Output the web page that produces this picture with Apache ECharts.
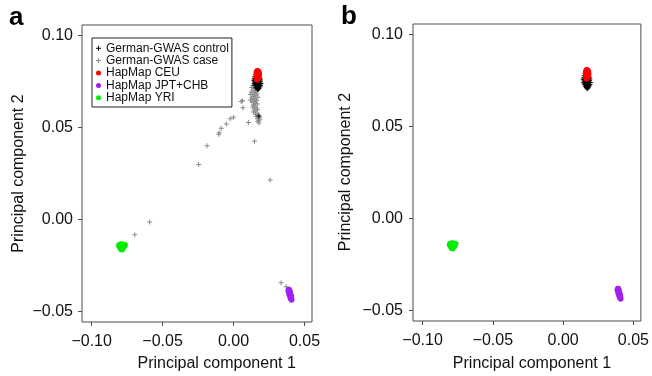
<!DOCTYPE html>
<html>
<head>
<meta charset="utf-8">
<script src="https://cdn.jsdelivr.net/npm/echarts@6/dist/echarts.min.js"></script>
<style>
html,body{margin:0;padding:0;background:#fff;}
#c{width:652px;height:376px;}
</style>
</head>
<body>
<div id="c"></div>
<script>
// ---- data ----
var xTicks = [-0.10, -0.05, 0.00, 0.05];
var yTicks = [-0.05, 0.00, 0.05, 0.10];
var seriesNames = ['German-GWAS control', 'German-GWAS case', 'HapMap CEU', 'HapMap JPT+CHB', 'HapMap YRI'];

var ceu = [
[0.0165,0.0812],[0.0172,0.0810],[0.0178,0.0808],[0.0160,0.0806],[0.0168,0.0804],[0.0182,0.0803],[0.0175,0.0801],
[0.0158,0.0799],[0.0166,0.0797],[0.0184,0.0796],[0.0171,0.0794],[0.0162,0.0792],[0.0179,0.0791],[0.0155,0.0789],
[0.0168,0.0787],[0.0186,0.0786],[0.0174,0.0784],[0.0160,0.0782],[0.0181,0.0780],[0.0166,0.0779],[0.0156,0.0777],
[0.0176,0.0775],[0.0163,0.0773],[0.0183,0.0772],[0.0170,0.0770],[0.0158,0.0768],[0.0178,0.0766],[0.0165,0.0764],
[0.0173,0.0761],[0.0161,0.0759],[0.0168,0.0756]
];
var control = [
[0.0150,0.0776],[0.0162,0.0772],[0.0175,0.0770],[0.0186,0.0768],[0.0147,0.0766],[0.0158,0.0764],[0.0170,0.0762],
[0.0181,0.0760],[0.0190,0.0758],[0.0143,0.0757],[0.0152,0.0755],[0.0165,0.0753],[0.0178,0.0751],[0.0188,0.0749],
[0.0148,0.0747],[0.0160,0.0745],[0.0172,0.0743],[0.0184,0.0741],[0.0193,0.0740],[0.0146,0.0738],[0.0156,0.0736],
[0.0168,0.0734],[0.0180,0.0732],[0.0190,0.0730],[0.0152,0.0728],[0.0163,0.0726],[0.0175,0.0724],[0.0186,0.0722],
[0.0158,0.0719],[0.0170,0.0717],[0.0181,0.0715],[0.0165,0.0712],[0.0176,0.0709],[0.0170,0.0705]
];
var controlOutliers = [[0.0179,0.0563]];
var caseA = [
[0.0063,0.0645],[0.0054,0.0641],[0.0066,0.0608],[0.0000,0.0556],[-0.0023,0.0547],[-0.0051,0.0519],[-0.0087,0.0496],
[-0.0101,0.0472],[-0.0104,0.0463],[-0.0187,0.0401],[-0.0246,0.0298],[0.0105,0.0527],[0.0148,0.0425],[0.0258,0.0214],
[-0.0591,-0.0015],[-0.0696,-0.0084],[0.0335,-0.0345],[0.0371,-0.0367],
[0.0150,0.0738],[0.0135,0.0730],[0.0160,0.0725],[0.0128,0.0718],[0.0145,0.0712],[0.0170,0.0708],[0.0138,0.0703],
[0.0155,0.0698],[0.0125,0.0693],[0.0148,0.0688],[0.0165,0.0684],[0.0132,0.0679],[0.0158,0.0674],[0.0142,0.0669],
[0.0172,0.0665],[0.0128,0.0660],[0.0150,0.0656],[0.0138,0.0651],[0.0162,0.0647],[0.0145,0.0642],[0.0130,0.0637],
[0.0155,0.0632],[0.0168,0.0628],[0.0140,0.0623],[0.0150,0.0617],[0.0135,0.0612],[0.0160,0.0607],[0.0145,0.0601],
[0.0170,0.0596],[0.0152,0.0590],[0.0140,0.0585],[0.0165,0.0579],[0.0155,0.0572],[0.0175,0.0566],[0.0160,0.0560],
[0.0182,0.0554],[0.0168,0.0548],[0.0178,0.0540],[0.0172,0.0532],[0.0180,0.0525],[0.0185,0.0545],[0.0120,0.0650],
[0.0118,0.0680]
];
var jpt = [
[0.0386,-0.0380],[0.0394,-0.0379],[0.0382,-0.0386],[0.0391,-0.0385],[0.0400,-0.0387],
[0.0383,-0.0393],[0.0392,-0.0392],[0.0401,-0.0394],[0.0386,-0.0400],[0.0395,-0.0399],
[0.0404,-0.0401],[0.0388,-0.0407],[0.0397,-0.0406],[0.0406,-0.0408],[0.0391,-0.0414],
[0.0400,-0.0413],[0.0409,-0.0415],[0.0394,-0.0421],[0.0403,-0.0420],[0.0411,-0.0422],
[0.0397,-0.0428],[0.0406,-0.0427],[0.0413,-0.0430],[0.0401,-0.0435],[0.0410,-0.0435],
[0.0406,-0.0441],[0.0413,-0.0440]
];
var yri = [
[-0.0800,-0.0133],[-0.0790,-0.0132],[-0.0780,-0.0133],[-0.0770,-0.0134],[-0.0760,-0.0137],[-0.0810,-0.0138],
[-0.0795,-0.0139],[-0.0785,-0.0140],[-0.0772,-0.0141],[-0.0812,-0.0145],[-0.0800,-0.0146],[-0.0788,-0.0147],
[-0.0776,-0.0146],[-0.0763,-0.0144],[-0.0805,-0.0153],[-0.0793,-0.0154],[-0.0781,-0.0153],[-0.0769,-0.0152],
[-0.0800,-0.0160],[-0.0788,-0.0161],[-0.0776,-0.0160],[-0.0795,-0.0167],[-0.0783,-0.0168]
];

// ---- chart ----
var FONT = '"Liberation Sans", Arial, Helvetica, sans-serif';
var BOX = '#4d4d4d';
var PLUS = 'path://M0,4H10V6H0Z M4,0H6V10H4Z';
var COLORS = { control: '#000000', caseC: '#8c8c8c', ceu: '#ff0000', jpt: '#a020f0', yri: '#00ee00' };

function fmt(v) {
  return (v < 0 ? '\u2212' : '') + Math.abs(v).toFixed(2);
}

function xAxis(gi, margin) {
  return {
    type: 'value', gridIndex: gi, min: -0.1068, max: 0.0553, position: 'bottom',
    axisLine: { show: false, onZero: false },
    splitLine: { show: false },
    axisTick: { show: true, length: 4, lineStyle: { color: BOX }, customValues: xTicks },
    axisLabel: { customValues: xTicks, formatter: fmt, fontSize: 16, fontFamily: FONT, color: '#111', margin: margin }
  };
}
function yAxis(gi, margin) {
  return {
    type: 'value', gridIndex: gi, min: -0.0559, max: 0.1058, position: 'left',
    axisLine: { show: false, onZero: false },
    splitLine: { show: false },
    axisTick: { show: true, length: 4, lineStyle: { color: BOX }, customValues: yTicks },
    axisLabel: { customValues: yTicks, formatter: fmt, fontSize: 16, fontFamily: FONT, color: '#111', margin: margin }
  };
}

function sc(name, data, gi, symbol, size, color) {
  return {
    type: 'scatter', name: name, data: data, xAxisIndex: gi, yAxisIndex: gi,
    symbol: symbol, symbolSize: size, itemStyle: { color: color, opacity: 1 },
    emphasis: { disabled: true }, silent: true
  };
}

var chart = echarts.init(document.getElementById('c'), null, { renderer: 'canvas' });
chart.setOption({
  animation: false,
  backgroundColor: '#ffffff',
  grid: [
    { left: 82, right: 340, top: 25, bottom: 54, show: true, borderColor: BOX, borderWidth: 1, backgroundColor: 'transparent' },
    { left: 413, right: 9, top: 24, bottom: 55, show: true, borderColor: BOX, borderWidth: 1, backgroundColor: 'transparent' }
  ],
  xAxis: [xAxis(0, 12), xAxis(1, 12)],
  yAxis: [yAxis(0, 9), yAxis(1, 10)],
  legend: {
    left: 92, top: 38, orient: 'vertical',
    data: [
      { name: seriesNames[0], icon: PLUS },
      { name: seriesNames[1], icon: PLUS },
      { name: seriesNames[2], icon: 'circle' },
      { name: seriesNames[3], icon: 'circle' },
      { name: seriesNames[4], icon: 'circle' }
    ],
    itemWidth: 5, itemHeight: 5, itemGap: 0,
    padding: [4, 3, 3, 4],
    borderColor: '#222', borderWidth: 1,
    selectedMode: false,
    textStyle: { fontSize: 12, fontFamily: FONT, color: '#111', lineHeight: 12.4 }
  },
  series: [
    sc(seriesNames[1], caseA, 0, PLUS, 5, COLORS.caseC),
    sc(seriesNames[0], control, 0, PLUS, 5, COLORS.control),
    sc(seriesNames[0], controlOutliers, 0, PLUS, 5, COLORS.control),
    sc(seriesNames[2], ceu, 0, 'circle', 4.6, COLORS.ceu),
    sc(seriesNames[3], jpt, 0, 'circle', 4.6, COLORS.jpt),
    sc(seriesNames[4], yri, 0, 'circle', 4.6, COLORS.yri),
    sc(seriesNames[0], control, 1, PLUS, 5, COLORS.control),
    sc(seriesNames[2], ceu, 1, 'circle', 4.6, COLORS.ceu),
    sc(seriesNames[3], jpt, 1, 'circle', 4.6, COLORS.jpt),
    sc(seriesNames[4], yri, 1, 'circle', 4.6, COLORS.yri)
  ],
  graphic: [
    { type: 'text', left: 9, top: 5, style: { text: 'a', font: 'bold 26px ' + FONT, fill: '#000' } },
    { type: 'text', left: 341, top: 4, style: { text: 'b', font: 'bold 26px ' + FONT, fill: '#000' } },
    { type: 'text', x: 216.7, y: 363.7, style: { text: 'Principal component 1', font: '16px ' + FONT, fill: '#111', align: 'center', verticalAlign: 'middle' } },
    { type: 'text', x: 532, y: 363.7, style: { text: 'Principal component 1', font: '16px ' + FONT, fill: '#111', align: 'center', verticalAlign: 'middle' } },
    { type: 'text', x: 18.7, y: 173.5, rotation: Math.PI / 2, style: { text: 'Principal component 2', font: '16px ' + FONT, fill: '#111', align: 'center', verticalAlign: 'middle' } },
    { type: 'text', x: 346, y: 172, rotation: Math.PI / 2, style: { text: 'Principal component 2', font: '16px ' + FONT, fill: '#111', align: 'center', verticalAlign: 'middle' } }
  ]
});
</script>
</body>
</html>
